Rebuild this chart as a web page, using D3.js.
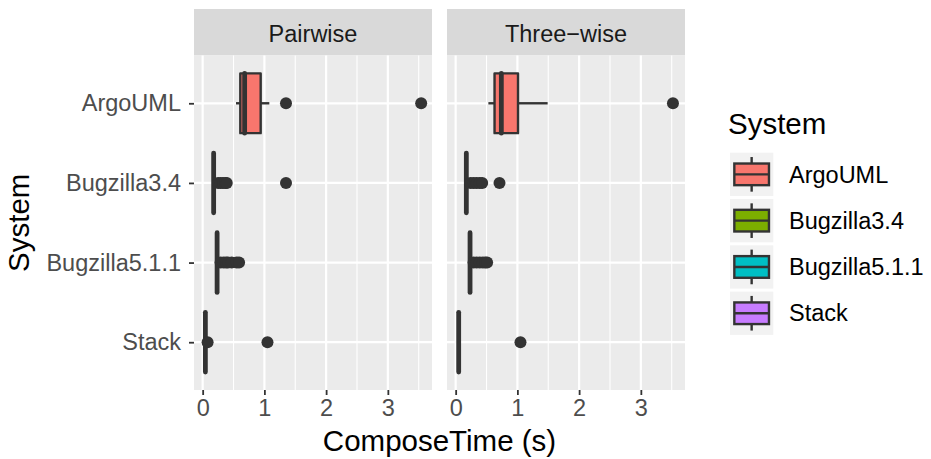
<!DOCTYPE html>
<html>
<head>
<meta charset="utf-8">
<script src="https://cdn.jsdelivr.net/npm/d3@7"></script>
<style>
  body { margin: 0; background: #fff; }
  text { font-family: "Liberation Sans", Arial, Helvetica, sans-serif; }
</style>
</head>
<body>
<script>
// categories and facets
var systems = ["ArgoUML", "Bugzilla3.4", "Bugzilla5.1.1", "Stack"];
var facets = ["Pairwise", "Three\u2212wise"];
var xTicks = [0, 1, 2, 3];

// box stats per system: [lower whisker, Q1, median, Q3, upper whisker]
var pairwiseStats = [
    [0.54, 0.61, 0.68, 0.94, 1.08],
    [0.17, 0.175, 0.178, 0.182, 0.19],
    [0.225, 0.23, 0.234, 0.238, 0.245],
    [0.035, 0.04, 0.044, 0.048, 0.055]
];
var pairwiseOutliers = [
    [1.35, 3.54],
    [0.25, 0.29, 0.33, 0.37, 0.39, 1.35],
    [0.29, 0.34, 0.38, 0.41, 0.47, 0.55, 0.59],
    [0.08, 1.05]
];
var threewiseStats = [
    [0.53, 0.63, 0.74, 1.01, 1.49],
    [0.165, 0.17, 0.173, 0.177, 0.185],
    [0.225, 0.229, 0.233, 0.237, 0.245],
    [0.04, 0.045, 0.049, 0.053, 0.06]
];
var threewiseOutliers = [
    [3.52],
    [0.24, 0.29, 0.34, 0.39, 0.43, 0.71],
    [0.29, 0.34, 0.39, 0.44, 0.48, 0.51],
    [1.05]
];

var palette = ["#F8766D", "#7CAE00", "#00BFC4", "#C77CFF"];

var panelData = [
    {stats: pairwiseStats, outliers: pairwiseOutliers},
    {stats: threewiseStats, outliers: threewiseOutliers}
];

var width = 931, height = 459;
var panelX = [194, 447], panelW = 238;
var stripTop = 9, panelTop = 55.5, panelBottom = 390;

var svg = d3.select("body").append("svg")
    .attr("width", width)
    .attr("height", height);
svg.append("rect").attr("width", width).attr("height", height).attr("fill", "#fff");

// shared x scale with ggplot style 5% expansion
var allVals = [];
panelData.forEach(function(p) {
    p.stats.forEach(function(s) { allVals = allVals.concat(s); });
    p.outliers.forEach(function(o) { allVals = allVals.concat(o); });
});
var lo = d3.min(allVals), hi = d3.max(allVals), span = hi - lo;
var x = d3.scaleLinear().domain([lo - 0.05 * span, hi + 0.05 * span]).range([0, panelW]);
var y = d3.scalePoint().domain(systems).range([panelTop, panelBottom]).padding(0.6);
var color = d3.scaleOrdinal().domain(systems).range(palette);
var boxH = y.step() * 0.75;
var minorTicks = x.ticks(8).filter(function(t) { return xTicks.indexOf(t) < 0; });
var lw = 2.4;

panelData.forEach(function(p, fi) {
    var g = svg.append("g").attr("transform", "translate(" + panelX[fi] + ",0)");

    // strip
    g.append("rect").attr("x", 0).attr("y", stripTop)
        .attr("width", panelW).attr("height", panelTop - stripTop)
        .attr("fill", "#D9D9D9");
    g.append("text").attr("x", panelW / 2).attr("y", 41.5)
        .attr("text-anchor", "middle")
        .attr("font-size", 23.5).attr("fill", "#1A1A1A")
        .text(facets[fi]);

    // panel bg + grid
    g.append("rect").attr("x", 0).attr("y", panelTop)
        .attr("width", panelW).attr("height", panelBottom - panelTop)
        .attr("fill", "#EBEBEB");
    g.selectAll(".minor").data(minorTicks).join("line")
        .attr("x1", d => x(d)).attr("x2", d => x(d))
        .attr("y1", panelTop).attr("y2", panelBottom)
        .attr("stroke", "#fff").attr("stroke-width", 1.1);
    g.selectAll(".majorx").data(xTicks).join("line")
        .attr("x1", d => x(d)).attr("x2", d => x(d))
        .attr("y1", panelTop).attr("y2", panelBottom)
        .attr("stroke", "#fff").attr("stroke-width", 2.2);
    g.selectAll(".majory").data(systems).join("line")
        .attr("x1", 0).attr("x2", panelW)
        .attr("y1", d => y(d)).attr("y2", d => y(d))
        .attr("stroke", "#fff").attr("stroke-width", 2.2);

    // boxplots
    systems.forEach(function(sys, i) {
        var s = p.stats[i], cy = y(sys);
        var b = g.append("g");
        b.append("line").attr("x1", x(s[0])).attr("x2", x(s[1]))
            .attr("y1", cy).attr("y2", cy)
            .attr("stroke", "#333333").attr("stroke-width", lw);
        b.append("line").attr("x1", x(s[3])).attr("x2", x(s[4]))
            .attr("y1", cy).attr("y2", cy)
            .attr("stroke", "#333333").attr("stroke-width", lw);
        b.append("rect").attr("x", x(s[1])).attr("y", cy - boxH / 2)
            .attr("width", x(s[3]) - x(s[1])).attr("height", boxH)
            .attr("fill", color(sys))
            .attr("stroke", "#333333").attr("stroke-width", lw)
            .attr("stroke-linejoin", "round");
        b.append("line").attr("x1", x(s[2])).attr("x2", x(s[2]))
            .attr("y1", cy - boxH / 2).attr("y2", cy + boxH / 2)
            .attr("stroke", "#333333").attr("stroke-width", lw * 2)
            .attr("stroke-linecap", "round");
        b.selectAll("circle").data(p.outliers[i]).join("circle")
            .attr("cx", d => x(d)).attr("cy", cy).attr("r", 6)
            .attr("fill", "#333333");
    });

    // x axis
    var xa = g.append("g").attr("transform", "translate(0," + panelBottom + ")")
        .call(d3.axisBottom(x).tickValues(xTicks).tickFormat(d3.format("d"))
            .tickSize(5).tickPadding(4.3));
    xa.select(".domain").remove();
    xa.selectAll("line").attr("stroke", "#333333").attr("stroke-width", 1.8);
    xa.selectAll("text").attr("font-size", 23.5).attr("fill", "#4D4D4D")
        .style("font-family", "'Liberation Sans', Arial, sans-serif");
});

// y axis on first panel
var ya = svg.append("g").attr("transform", "translate(" + panelX[0] + ",0)")
    .call(d3.axisLeft(y).tickSize(5).tickPadding(8));
ya.select(".domain").remove();
ya.selectAll("line").attr("stroke", "#333333").attr("stroke-width", 1.8);
ya.selectAll("text").attr("font-size", 23.5).attr("fill", "#4D4D4D")
    .style("font-family", "'Liberation Sans', Arial, sans-serif");

// axis titles
svg.append("text").attr("x", (panelX[0] + panelX[1] + panelW) / 2).attr("y", 451)
    .attr("text-anchor", "middle").attr("font-size", 29.5).attr("fill", "#000")
    .text("ComposeTime (s)");
svg.append("text").attr("transform", "translate(29," + ((panelTop + panelBottom) / 2) + ") rotate(-90)")
    .attr("text-anchor", "middle").attr("font-size", 29.5).attr("fill", "#000")
    .text("System");

// legend
var leg = svg.append("g").attr("transform", "translate(728,0)");
leg.append("text").attr("x", 0).attr("y", 134)
    .attr("font-size", 29.5).attr("fill", "#000").text("System");
var keySize = 43.3, keyStep = 46.3, keyTop = 152.7;
systems.forEach(function(sys, i) {
    var k = leg.append("g").attr("transform", "translate(2," + (keyTop + i * keyStep) + ")");
    k.append("rect").attr("width", keySize).attr("height", keySize).attr("fill", "#F2F2F2");
    k.append("line").attr("x1", keySize / 2).attr("x2", keySize / 2)
        .attr("y1", keySize * 0.1).attr("y2", keySize * 0.9)
        .attr("stroke", "#333333").attr("stroke-width", lw);
    k.append("rect").attr("x", keySize * 0.1).attr("y", keySize * 0.25)
        .attr("width", keySize * 0.8).attr("height", keySize * 0.5)
        .attr("fill", color(sys)).attr("stroke", "#333333").attr("stroke-width", lw);
    k.append("line").attr("x1", keySize * 0.1).attr("x2", keySize * 0.9)
        .attr("y1", keySize / 2).attr("y2", keySize / 2)
        .attr("stroke", "#333333").attr("stroke-width", lw);
    leg.append("text").attr("x", 61).attr("y", keyTop + i * keyStep + keySize / 2)
        .attr("dy", "0.35em").attr("font-size", 23.5).attr("fill", "#000")
        .text(sys);
});
</script>
</body>
</html>
